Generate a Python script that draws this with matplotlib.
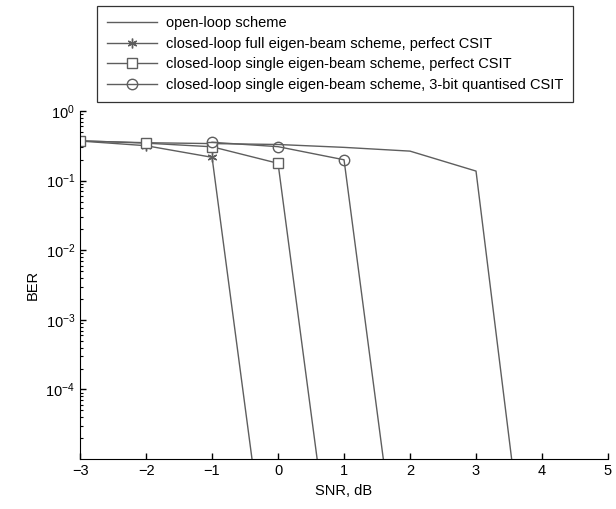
import matplotlib
matplotlib.use("Agg")
import matplotlib.pyplot as plt
from matplotlib.ticker import FixedLocator, LogLocator, NullFormatter

plt.rcParams['font.family'] = ['Liberation Sans', 'DejaVu Sans']
plt.rcParams['font.size'] = 10.5

# SNR (dB) and BER
# last point of each series is past the bottom of the axis (clipped)
snr_open = [-3, -2, -1, 0, 1, 2, 3, 4]
ber_open = [0.37, 0.35, 0.34, 0.33, 0.30, 0.265, 0.137, 3e-9]

snr_full = [-3, -2, -1, 0]
ber_full = [0.37, 0.317, 0.216, 1.5e-8]

snr_single = [-3, -2, -1, 0, 1]
ber_single = [0.374, 0.345, 0.306, 0.177, 1.2e-8]

snr_quant = [-1, 0, 1, 2]
ber_quant = [0.355, 0.307, 0.199, 1.2e-8]

labels = ["open-loop scheme",
          "closed-loop full eigen-beam scheme, perfect CSIT",
          "closed-loop single eigen-beam scheme, perfect CSIT",
          "closed-loop single eigen-beam scheme, 3-bit quantised CSIT"]

col = '#5e5e5e'

fig = plt.figure(figsize=(6.16, 5.09), dpi=100)
ax = fig.add_axes([0.130, 0.098, 0.857, 0.684])

ax.plot(snr_open, ber_open, color=col, lw=1.0, label=labels[0])
ax.plot(snr_full, ber_full, color=col, lw=1.0, marker=(6, 2, 0), ms=7,
        mew=1.0, label=labels[1])
ax.plot(snr_single, ber_single, color=col, lw=1.0, marker='s', ms=6.5,
        mfc='white', mew=1.0, label=labels[2])
ax.plot(snr_quant, ber_quant, color=col, lw=1.0, marker='o', ms=7.5,
        mfc='none', mew=1.0, label=labels[3])

ax.set_yscale('log')
ax.set_xlim(-3, 5)
ax.set_ylim(1e-5, 1)
ax.set_xticks(range(-3, 6))
ax.yaxis.set_major_locator(FixedLocator([1e-4, 1e-3, 1e-2, 1e-1, 1e0]))
ax.yaxis.set_minor_locator(LogLocator(base=10, subs=range(2, 10), numticks=20))
ax.yaxis.set_minor_formatter(NullFormatter())

ax.spines['top'].set_visible(False)
ax.spines['right'].set_visible(False)
ax.tick_params(direction='in', length=4, width=1.0, labelsize=10.5)
ax.tick_params(which='minor', direction='in', length=2.5, width=0.8)
ax.set_xlabel("SNR, dB", fontsize=10.5)
ax.set_ylabel("BER", fontsize=10.5)

leg = fig.legend(loc='upper left', bbox_to_anchor=(97 / 616, 1 - 6 / 509),
                 frameon=True, fancybox=False, edgecolor='black',
                 handlelength=3.4, handletextpad=0.6, labelspacing=0.45,
                 borderaxespad=0, borderpad=0.7, fontsize=10.5)
leg.get_frame().set_linewidth(0.9)

fig.savefig("out.png", dpi=100)
